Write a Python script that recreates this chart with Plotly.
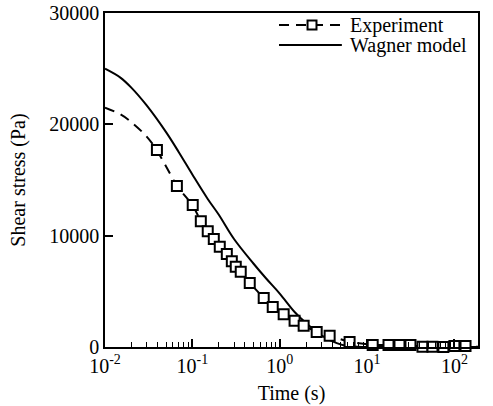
import plotly.graph_objects as go

# Measured shear stress relaxation (markers)
exp_time = [0.0393, 0.0665, 0.101, 0.125, 0.150, 0.176, 0.206, 0.248, 0.283, 0.314,
            0.358, 0.454, 0.656, 0.832, 1.11, 1.48, 1.88, 2.65, 3.73, 6.31,
            11.6, 17.6, 23.5, 31.4, 43.1, 56.1, 74.8, 100, 134, 188]
exp_stress = [17700, 14450, 12750, 11300, 10400, 9700, 9000, 8350, 7700, 7200,
              6750, 5750, 4400, 3600, 2950, 2350, 1900, 1350, 1000, 450,
              180, 180, 180, 180, 20, 20, 0, 90, 90, 20]

# Early part of the measured curve (line only, before the first marker)
exp_lead_time = [0.01, 0.015, 0.02, 0.03, 0.0393]
exp_lead_stress = [21500, 20900, 20200, 18900, 17700]

# Wagner model prediction
model_time = [0.01, 0.015, 0.02, 0.03, 0.05, 0.07, 0.1, 0.15, 0.2, 0.3,
              0.5, 0.7, 1.0, 1.5, 2.0, 3.0, 4.5, 6.0, 10, 30, 100, 188]
model_stress = [25000, 24200, 23300, 21700, 19300, 17500, 15500, 13300, 11900, 9700,
                7500, 6150, 4800, 3100, 2150, 1050, 350, 80, 0, 0, 0, 0]

# Axis ticks
x_tickvals = [0.01, 0.1, 1, 10, 100]
x_ticktext = ["10<sup>-2</sup>", "10<sup>-1</sup>", "10<sup>0</sup>",
              "10<sup>1</sup>", "10<sup>2</sup>"]
y_tickvals = [0, 10000, 20000, 30000]
y_ticktext = ["0", "10000", "20000", "30000"]

FONT = "Liberation Serif"
DASH = "10px,7px"
FS = 20

fig = go.Figure()

fig.add_trace(go.Scatter(
    x=exp_lead_time, y=exp_lead_stress, mode="lines", line_shape="spline",
    line=dict(color="black", width=2, dash=DASH),
    showlegend=False, hoverinfo="skip",
))
fig.add_trace(go.Scatter(
    x=model_time, y=model_stress, mode="lines", name="Wagner model",
    line_shape="spline",
    line=dict(color="black", width=2),
    showlegend=False,
))
fig.add_trace(go.Scatter(
    x=exp_time, y=exp_stress, mode="lines+markers", name="Experiment",
    line=dict(color="black", width=2, dash=DASH),
    marker=dict(symbol="square", size=10, color="white",
                line=dict(color="black", width=2)),
    cliponaxis=False, showlegend=False,
))

# Legend drawn in paper coordinates
x0, x1, xt = 0.4665, 0.635, 0.652
y_exp, y_mod = 0.964, 0.904
fig.add_shape(type="line", xref="paper", yref="paper", x0=x0, x1=x1, y0=y_exp, y1=y_exp,
              line=dict(color="black", width=2, dash=DASH))
fig.add_shape(type="line", xref="paper", yref="paper", x0=x0, x1=x1, y0=y_mod, y1=y_mod,
              line=dict(color="black", width=2))
fig.add_shape(type="rect", xref="paper", yref="paper",
              x0=0.543, x1=0.567, y0=y_exp - 0.0135, y1=y_exp + 0.0135,
              fillcolor="white", line=dict(color="black", width=2))
fig.add_annotation(x=xt, y=y_exp, xref="paper", yref="paper", text="Experiment",
                   showarrow=False, xanchor="left", yanchor="middle",
                   font=dict(family=FONT, size=FS, color="black"))
fig.add_annotation(x=xt, y=y_mod, xref="paper", yref="paper", text="Wagner model",
                   showarrow=False, xanchor="left", yanchor="middle",
                   font=dict(family=FONT, size=FS, color="black"))

fig.update_layout(
    width=493, height=406,
    margin=dict(l=105, r=15, t=13, b=59),
    paper_bgcolor="white", plot_bgcolor="white",
    font=dict(family=FONT, size=FS, color="black"),
    showlegend=False,
)

fig.update_xaxes(
    type="log", range=[-2, 2.27], automargin=False,
    tickvals=x_tickvals, ticktext=x_ticktext,
    tickfont=dict(family=FONT, size=FS, color="black"),
    showgrid=False, zeroline=False,
    showline=True, linecolor="black", linewidth=1.5, mirror=True,
    ticks="inside", ticklen=8, tickwidth=1.5, tickcolor="black",
    minor=dict(ticks="inside", ticklen=5, tickwidth=1, tickcolor="black",
               dtick="D1", showgrid=False),
    title=dict(text="Time (s)", standoff=10,
               font=dict(family=FONT, size=FS, color="black")),
)
fig.update_yaxes(
    range=[0, 30000], automargin=False,
    tickvals=y_tickvals, ticktext=y_ticktext,
    tickfont=dict(family=FONT, size=FS, color="black"),
    showgrid=False, zeroline=False,
    showline=True, linecolor="black", linewidth=1.5, mirror=True,
    ticks="inside", ticklen=8, tickwidth=1.5, tickcolor="black",
    title=dict(text="Shear stress (Pa)", standoff=18,
               font=dict(family=FONT, size=FS, color="black")),
)

fig.write_html("out.html")
